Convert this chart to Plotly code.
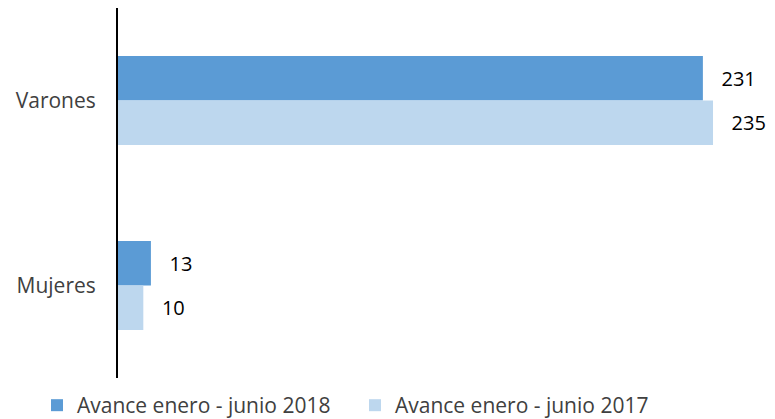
import plotly.graph_objects as go

categories = ["Varones", "Mujeres"]
series_names = ["Avance enero - junio 2018", "Avance enero - junio 2017"]
values_2018 = [231, 13]
values_2017 = [235, 10]
colors = ["#5B9BD5", "#BDD7EE"]

pad = "\u00a0" * 3
fig = go.Figure()
for name, vals, col in zip(series_names, [values_2018, values_2017], colors):
    fig.add_trace(go.Bar(
        y=categories, x=vals, name=name, orientation="h",
        marker=dict(color=col, line=dict(width=0)),
        text=[pad + str(v) for v in vals], textposition="outside",
        textfont=dict(family="Open Sans", size=20, color="#000000"),
        cliponaxis=False,
    ))

fig.update_layout(
    width=767, height=411,
    margin=dict(l=110, r=24, t=0, b=41, autoexpand=False),
    paper_bgcolor="white", plot_bgcolor="white",
    barmode="group", bargap=0.52, bargroupgap=0,
    font=dict(family="Open Sans", size=20, color="#404040"),
    xaxis=dict(range=[0, 250], showgrid=False, zeroline=False, showline=False,
               showticklabels=False, ticks="", automargin=False),
    yaxis=dict(autorange="reversed", showline=True, linecolor="#000000", linewidth=2,
               showgrid=False, zeroline=False, ticks="", ticklabelstandoff=16,
               automargin=False,
               tickfont=dict(family="Open Sans", size=21, color="#404040")),
    legend=dict(orientation="h", x=-0.128, xanchor="left", y=-0.019, yanchor="top",
                font=dict(family="Open Sans", size=21, color="#404040"),
                entrywidth=273, entrywidthmode="pixels", traceorder="normal"),
    showlegend=True,
)
fig.write_html("out.html")
